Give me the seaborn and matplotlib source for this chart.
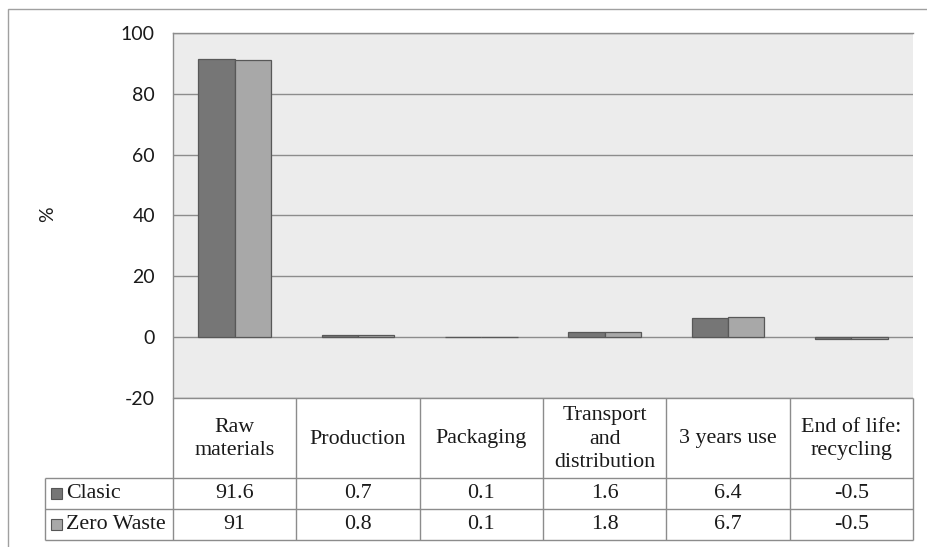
import matplotlib
matplotlib.use("Agg")
import matplotlib.pyplot as plt
import seaborn as sns
import pandas as pd
from matplotlib.patches import Rectangle

# Life-cycle stages and their share of the total impact (%)
categories = ["Raw\nmaterials", "Production", "Packaging",
              "Transport\nand\ndistribution", "3 years use", "End of life:\nrecycling"]
series_names = ["Clasic", "Zero Waste"]
clasic = [91.6, 0.7, 0.1, 1.6, 6.4, -0.5]
zero_waste = [91, 0.8, 0.1, 1.8, 6.7, -0.5]
y_ticks = [-20, 0, 20, 40, 60, 80, 100]
series_colors = ["#767676", "#a8a8a8"]

df = pd.DataFrame({
    "stage": categories * 2,
    "series": [series_names[0]] * len(clasic) + [series_names[1]] * len(zero_waste),
    "value": clasic + zero_waste,
})

sns.set_theme(style="white")
plt.rcParams["font.family"] = ["Lato", "DejaVu Sans"]

W, H = 927, 547
fig = plt.figure(figsize=(W / 100, H / 100), dpi=100)
fig.patch.set_facecolor("white")


def fx(px):
    return px / W


def fy(py):
    return 1 - py / H


line_col = "#8c8c8c"
text_col = "#1a1a1a"
serif = ["Liberation Serif", "DejaVu Serif"]
table_fs = 15.8

# chart frame
fig.patches.append(Rectangle((fx(8), fy(600)), fx(1000) - fx(8), fy(9) - fy(600),
                             transform=fig.transFigure, fill=False,
                             edgecolor="#a0a0a0", lw=1.0))

# plot area
ax = fig.add_axes([fx(173), fy(398), fx(913) - fx(173), fy(33) - fy(398)])
ax.set_facecolor("#ececec")
sns.barplot(data=df, x="stage", y="value", hue="series", palette=series_colors,
            width=0.59, edgecolor="#585858", linewidth=0.9, ax=ax,
            legend=False, zorder=3, errorbar=None)
ax.set_xlim(-0.5, 5.5)
ax.set_ylim(-20, 100)
ax.set_yticks(y_ticks)
ax.set_yticklabels([str(t) for t in y_ticks])
ax.yaxis.grid(True, color=line_col, lw=1.0)
ax.set_axisbelow(True)
ax.tick_params(axis="y", length=0, pad=13, labelsize=14, labelcolor=text_col)
ax.tick_params(axis="x", length=0, labelbottom=False)
ax.set_xlabel("")
ax.set_ylabel("")
for side in ["right", "bottom"]:
    ax.spines[side].set_visible(False)
for side in ["left", "top"]:
    ax.spines[side].set_color(line_col)
    ax.spines[side].set_linewidth(1.0)

fig.text(fx(48), fy(214), "%", rotation=90, ha="center", va="center",
         fontsize=14, color=text_col)

# data table below the plot area
tax = fig.add_axes([fx(173), fy(540), fx(913) - fx(173), fy(398) - fy(540)])
tax.set_xlim(-0.5, 5.5)
tax.set_ylim(142, 0)
tax.axis("off")
unit_px = (913 - 173) / 6
left_x = -0.5 - (173 - 45) / unit_px
rows_y = [0, 80, 111, 142]

kw = dict(color=line_col, lw=1.0, clip_on=False, solid_capstyle="butt")
for k in range(len(categories) + 1):
    tax.plot([k - 0.5, k - 0.5], [0, 142], **kw)
tax.plot([-0.5, 5.5], [0, 0], **kw)
for yy in rows_y[1:]:
    tax.plot([left_x, 5.5], [yy, yy], **kw)
tax.plot([left_x, left_x], [80, 142], **kw)

for i, cat in enumerate(categories):
    tax.text(i, 41, cat, ha="center", va="center", fontsize=table_fs,
             family=serif, color=text_col, linespacing=1.3, clip_on=False)

for r, (name, vals, col) in enumerate(zip(series_names, [clasic, zero_waste], series_colors)):
    yc = (rows_y[r + 1] + rows_y[r + 2]) / 2
    for i, v in enumerate(vals):
        tax.text(i, yc, f"{v:g}", ha="center", va="center", fontsize=table_fs,
                 family=serif, color=text_col, clip_on=False)
    sq = 11 / unit_px
    tax.add_patch(Rectangle((left_x + 6 / unit_px, yc - 5.5), sq, 11,
                            facecolor=col, edgecolor="#555555", lw=0.8, clip_on=False))
    tax.text(left_x + 21 / unit_px, yc, name, ha="left", va="center", fontsize=table_fs,
             family=serif, color=text_col, clip_on=False)

fig.savefig("out.png", dpi=100)
